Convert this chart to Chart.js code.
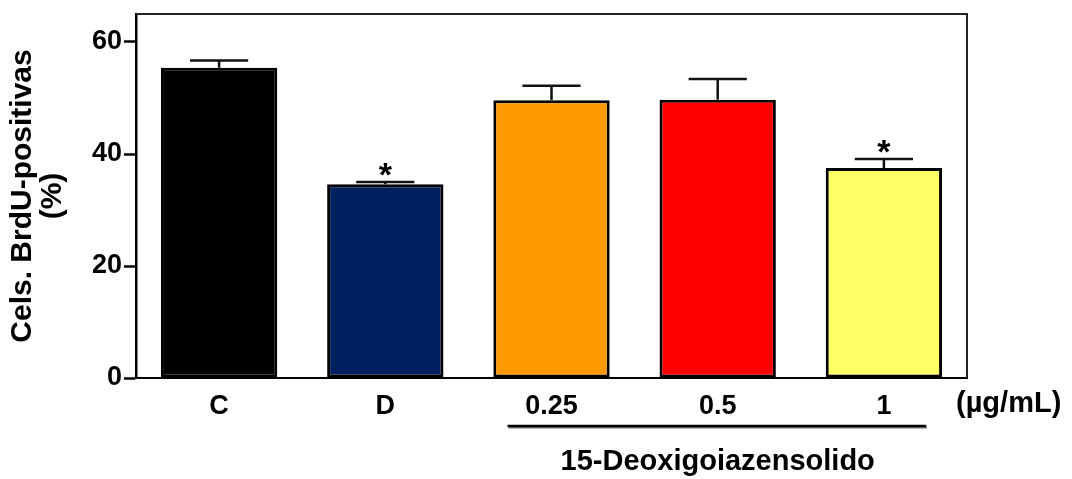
<!DOCTYPE html>
<html>
<head>
<meta charset="utf-8">
<script src="https://cdn.jsdelivr.net/npm/chart.js@4.4.1/dist/chart.umd.min.js"></script>
<style>
  html, body { margin: 0; padding: 0; background: #fff; }
  #wrap { width: 1072px; height: 479px; }
</style>
</head>
<body>
<div id="wrap"><canvas id="chart" width="1072" height="479"></canvas></div>
<script>
// datos
const categories = ['C', 'D', '0.25', '0.5', '1'];
const meanValues = [55.4, 34.6, 49.6, 49.7, 37.5];
const semValues = [1.3, 0.4, 2.6, 3.7, 1.6];
const signif = ['', '*', '', '', '*'];
const barColors = ['#000000', '#002060', '#FF9900', '#FF0000', '#FFFF66'];
const yTicks = [0, 20, 40, 60];

const unitLabel = '(\u00b5g/mL)';
const groupLabel = '15-Deoxigoiazensolido';
const groupFrom = '0.25';
const groupTo = '1';

const FONT = '"Liberation Sans", Arial, sans-serif';

// Plugin para barras de error, asteriscos, marco y etiquetas extra
const extrasPlugin = {
    id: 'extras',
    afterDatasetsDraw(chart) {
        const ctx = chart.ctx;
        const x = chart.scales.x;
        const y = chart.scales.y;
        const area = chart.chartArea;
        const meta = chart.getDatasetMeta(0);

        ctx.save();
        // marco superior y derecho
        ctx.strokeStyle = '#222';
        ctx.lineWidth = 2;
        ctx.beginPath();
        ctx.moveTo(area.left, area.top);
        ctx.lineTo(area.right, area.top);
        ctx.lineTo(area.right, area.bottom);
        ctx.stroke();

        // barras de error (solo hacia arriba)
        meta.data.forEach((bar, i) => {
            const cx = bar.x;
            const top = y.getPixelForValue(meanValues[i]);
            const errTop = y.getPixelForValue(meanValues[i] + semValues[i]);
            const half = bar.width / 4;
            ctx.strokeStyle = '#111';
            ctx.lineWidth = 2.5;
            ctx.beginPath();
            ctx.moveTo(cx, top);
            ctx.lineTo(cx, errTop);
            ctx.moveTo(cx - half, errTop);
            ctx.lineTo(cx + half, errTop);
            ctx.stroke();

            if (signif[i]) {
                ctx.fillStyle = '#000';
                ctx.font = 'bold 34px ' + FONT;
                ctx.textAlign = 'center';
                ctx.textBaseline = 'alphabetic';
                ctx.fillText(signif[i], cx, errTop + 4);
            }
        });

        // unidad a la derecha de las etiquetas
        ctx.fillStyle = '#000';
        ctx.font = 'bold 29px ' + FONT;
        ctx.textAlign = 'left';
        ctx.textBaseline = 'middle';
        ctx.fillText(unitLabel, area.right - 11, area.bottom + 26);

        // linea del grupo tratado
        const i0 = categories.indexOf(groupFrom);
        const i1 = categories.indexOf(groupTo);
        const x0 = x.getPixelForValue(i0) - 44;
        const x1 = x.getPixelForValue(i1) + 42;
        const ly = area.bottom + 48;
        ctx.strokeStyle = '#777';
        ctx.lineWidth = 3;
        ctx.beginPath();
        ctx.moveTo(x0 + 1, ly + 1);
        ctx.lineTo(x1 + 1, ly + 1);
        ctx.stroke();
        ctx.strokeStyle = '#000';
        ctx.lineWidth = 2.5;
        ctx.beginPath();
        ctx.moveTo(x0, ly);
        ctx.lineTo(x1, ly);
        ctx.stroke();

        // nombre del compuesto
        ctx.fillStyle = '#000';
        ctx.font = 'bold 29px ' + FONT;
        ctx.textAlign = 'center';
        ctx.textBaseline = 'middle';
        ctx.fillText(groupLabel, (x.getPixelForValue(i0) + x.getPixelForValue(i1)) / 2, area.bottom + 84);
        ctx.restore();
    }
};

const ctx = document.getElementById('chart').getContext('2d');
new Chart(ctx, {
    type: 'bar',
    data: {
        labels: categories,
        datasets: [{
            data: meanValues,
            backgroundColor: barColors,
            borderColor: '#000',
            borderWidth: 3,
            borderSkipped: false,
            barPercentage: 0.7,
            categoryPercentage: 1.0
        }]
    },
    options: {
        responsive: false,
        animation: false,
        layout: { padding: { left: 0, top: 14, right: 105, bottom: 0 } },
        plugins: {
            legend: { display: false },
            tooltip: { enabled: false }
        },
        scales: {
            x: {
                grid: { display: false },
                border: { display: true, color: '#000', width: 2 },
                ticks: {
                    color: '#000',
                    font: { family: FONT, size: 27, weight: 'bold' },
                    padding: 4,
                    maxRotation: 0
                },
                afterFit(scale) {
                    scale.height = 101;
                    scale.paddingLeft = 0;
                    scale.paddingRight = 0;
                }
            },
            y: {
                min: 0,
                max: 65,
                afterBuildTicks(scale) {
                    scale.ticks = yTicks.map(v => ({ value: v }));
                },
                grid: {
                    drawOnChartArea: false,
                    drawTicks: true,
                    tickLength: 12,
                    tickWidth: 2.5,
                    tickColor: '#000'
                },
                border: { display: true, color: '#000', width: 2.5 },
                ticks: {
                    color: '#000',
                    font: { family: FONT, size: 27, weight: 'bold' },
                    padding: 2
                },
                title: {
                    display: true,
                    text: ['Cels. BrdU-positivas', '(%)'],
                    color: '#000',
                    font: { family: FONT, size: 30, weight: 'bold', lineHeight: 1.0 },
                    padding: { top: 8, bottom: 0 }
                },
                afterFit(scale) {
                    scale.width = 136;
                    scale.paddingTop = 0;
                    scale.paddingBottom = 0;
                }
            }
        }
    },
    plugins: [extrasPlugin]
});
</script>
</body>
</html>
